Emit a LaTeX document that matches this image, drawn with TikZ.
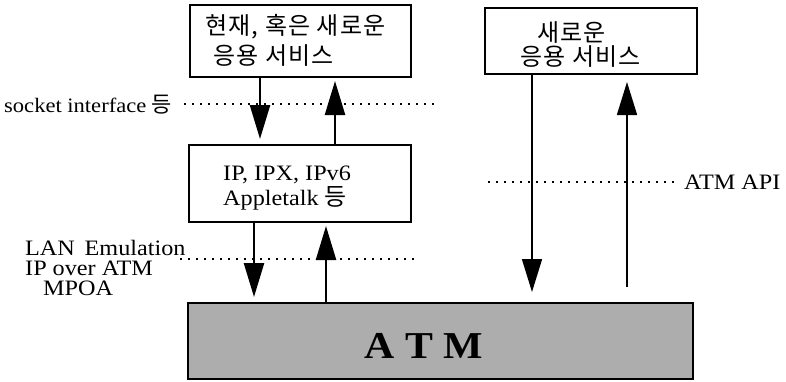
\documentclass[tikz,border=0pt]{standalone}
\usepackage{fontspec}
\setmainfont{Liberation Serif}[FakeStretch=1.1]
\newfontfamily\kr{Noto Sans CJK KR}[LetterSpace=5]
\usetikzlibrary{arrows.meta}
\begin{document}
\begin{tikzpicture}[x=1pt,y=-1pt,
  box/.style={draw,line width=2pt,inner sep=0pt},
  arr/.style={line width=2.4pt,-{Triangle[length=34pt,width=20pt]}},
  arrthin/.style={line width=1.6pt,-{Triangle[length=33pt,width=20pt]}},
  dotline/.style={line width=1.8pt,dash pattern=on 1.8pt off 6.2pt},
  lbl/.style={font=\fontsize{22}{24}\selectfont,inner sep=0pt,anchor=base west},
  krl/.style={font=\kr\fontsize{24}{26}\selectfont,inner sep=0pt,anchor=west}]
\useasboundingbox (0,0) rectangle (786,381);
% boxes
\node[box,minimum width=221pt,minimum height=72pt] (b1) at (300.5,41) {};
\node[box,minimum width=222pt,minimum height=77pt] (b2) at (300,183.5) {};
\node[box,minimum width=212pt,minimum height=66pt] (b3) at (591,41) {};
\node[box,fill=black!32,minimum width=505pt,minimum height=76pt] (atm) at (440.5,341) {};
% texts
\node[krl] (t1a) at (205,27) {현재, 혹은 새로운};
\node[krl] (t1b) at (213,56) {응용 서비스};
\node[lbl] (t2a) at (223,180) {IP, IPX, IPv6};
\node[lbl] (t2b) at (223,205) {Appletalk {\kr\fontsize{24}{26}\selectfont 등}};
\node[krl] (t3a) at (537,33) {새로운};
\node[krl] (t3b) at (520,57) {응용 서비스};
\node[lbl,font=\fontsize{20.5}{24}\selectfont] (sock) at (4,112) {socket interface {\kr\fontsize{22}{26}\selectfont 등}};
\node[lbl] (lane) at (25,255) {LAN\, Emulation};
\node[lbl] (ipoa) at (25,275) {IP over ATM};
\node[lbl] (mpoa) at (43,295) {MPOA};
\node[lbl] (api) at (684,189) {ATM API};
\node[font=\fontsize{38}{40}\selectfont\bfseries,inner sep=0pt,anchor=base] (atmt) at (424,358) {A T M};
% dotted lines
\coordinate (d1a) at (184,104); \coordinate (d1b) at (435,104);
\coordinate (d2a) at (180,259); \coordinate (d2b) at (414,259);
\coordinate (d3a) at (488,182); \coordinate (d3b) at (675,182);
\draw[dotline] (d1a) -- (d1b);
\draw[dotline] (d2a) -- (d2b);
\draw[dotline] (d3a) -- (d3b);
% arrows
\draw[arr,shorten >=5pt] (b1.south -| 260,0) -- (b2.north -| 260,0);
\draw[arr,shorten >=3pt] (b2.north -| 335,0) -- (b1.south -| 335,0);
\draw[arr,shorten >=5pt] (b2.south -| 254,0) -- (atm.north -| 254,0);
\draw[arr,shorten >=3pt] (atm.north -| 326,0) -- (b2.south -| 326,0);
\draw[arrthin,shorten >=10pt] (b3.south -| 532,0) -- (atm.north -| 532,0);
\draw[arrthin,shorten <=15pt,shorten >=7pt] (atm.north -| 627,0) -- (b3.south -| 627,0);
\end{tikzpicture}
\end{document}
